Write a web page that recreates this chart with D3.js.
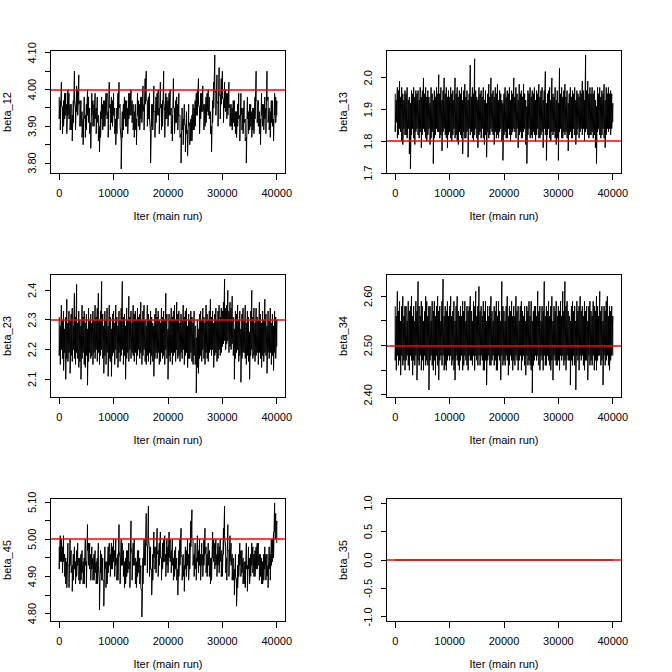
<!DOCTYPE html>
<html><head><meta charset="utf-8">
<script src="https://cdn.jsdelivr.net/npm/d3@7"></script>
<style>
body{margin:0;background:#fff}
svg{display:block}
text{font-family:"Liberation Sans",Arial,Helvetica,sans-serif;font-size:11px;fill:#000}
</style>
</head><body>
<svg id="chart" width="672" height="672"></svg>
<script>
// ---------------- data ----------------
const xTicks = [0, 10000, 20000, 30000, 40000];
const xTitle = "Iter (main run)";
const lastIter = 40000;
const paramNames = ["beta_12", "beta_13", "beta_23", "beta_34", "beta_45", "beta_35"];
const trueValues = [4.0, 1.8, 2.3, 2.5, 5.0, 0.0];

const yTicks_12 = ["3.80","3.85","3.90","3.95","4.00","4.05","4.10"];
const yTicks_13 = ["1.7","1.8","1.9","2.0"];
const yTicks_23 = ["2.1","2.2","2.3","2.4"];
const yTicks_34 = ["2.40","2.45","2.50","2.55","2.60"];
const yTicks_45 = ["4.80","4.85","4.90","4.95","5.00","5.05","5.10"];
const yTicks_35 = ["-1.0","-0.5","0.0","0.5","1.0"];

// Dense MCMC chains: for every block of 200 iterations (0, 200, ..., 40000)
// the highest and lowest value the chain visits.
const beta_12_hi = [
3.98,3.97,4.02,3.95,3.97,3.99,3.99,3.96,4.00,3.99,
3.96,3.96,3.93,3.97,4.05,3.95,4.01,4.00,4.04,3.97,
3.97,3.94,3.92,3.98,3.93,3.96,4.00,3.98,3.95,3.91,
3.99,3.97,3.96,3.99,3.95,3.98,3.93,3.90,3.94,3.98,
3.96,3.97,3.97,3.99,3.99,3.94,4.02,3.96,3.98,3.97,
3.99,3.95,3.92,3.95,3.99,4.02,3.96,3.86,3.94,3.96,
3.98,3.97,3.97,3.95,3.99,3.99,4.00,3.97,3.96,3.94,
3.96,3.92,3.99,3.97,3.96,3.98,3.98,4.01,3.96,4.03,
4.05,3.97,3.98,3.99,3.88,3.96,3.96,4.01,3.94,3.98,
3.99,4.00,3.95,4.02,3.96,3.97,4.05,3.94,3.99,3.98,
3.97,3.99,4.00,3.95,3.93,4.03,3.95,3.97,3.98,3.96,
3.99,3.93,3.88,3.95,3.92,3.96,3.90,3.94,3.89,3.96,
3.91,3.92,3.93,3.96,3.95,3.97,3.99,4.00,4.03,3.95,
3.99,3.99,4.01,3.96,3.96,3.98,3.99,4.00,3.98,3.94,
3.90,3.97,4.02,4.094,3.99,4.04,3.96,4.06,3.98,4.03,
4.05,3.97,4.02,4.00,3.99,3.99,4.02,3.96,3.96,3.95,
3.97,3.97,3.94,3.94,3.96,3.99,3.93,3.99,3.95,3.95,
3.97,3.92,3.87,3.98,3.94,3.96,3.96,3.94,3.95,3.95,
3.98,4.05,3.97,3.97,3.94,3.92,3.99,3.96,3.96,3.98,
3.95,4.05,3.98,3.95,3.94,3.97,3.97,3.92,3.99,3.98,
3.97];
const beta_12_lo = [
3.92,3.89,3.96,3.88,3.90,3.92,3.93,3.88,3.93,3.92,
3.89,3.89,3.86,3.91,3.97,3.89,3.94,3.93,3.96,3.90,
3.90,3.87,3.85,3.92,3.87,3.89,3.93,3.91,3.88,3.84,
3.93,3.90,3.90,3.92,3.88,3.91,3.86,3.83,3.87,3.92,
3.89,3.90,3.90,3.93,3.92,3.87,3.95,3.89,3.91,3.90,
3.93,3.88,3.85,3.88,3.92,3.95,3.90,3.784,3.87,3.89,
3.92,3.90,3.90,3.88,3.92,3.93,3.93,3.91,3.89,3.87,
3.89,3.85,3.93,3.90,3.89,3.92,3.91,3.94,3.89,3.96,
3.97,3.90,3.92,3.92,3.80,3.90,3.89,3.94,3.87,3.91,
3.93,3.93,3.88,3.95,3.89,3.90,3.97,3.87,3.92,3.92,
3.90,3.93,3.93,3.88,3.86,3.95,3.88,3.91,3.91,3.89,
3.93,3.87,3.80,3.89,3.85,3.91,3.83,3.88,3.82,3.90,
3.85,3.86,3.86,3.89,3.89,3.90,3.93,3.93,3.96,3.88,
3.92,3.94,3.94,3.89,3.90,3.91,3.94,3.93,3.92,3.88,
3.83,3.91,3.95,4.00,3.93,3.97,3.90,3.99,3.92,3.96,
3.98,3.91,3.95,3.94,3.92,3.93,3.95,3.90,3.90,3.89,
3.91,3.90,3.88,3.87,3.90,3.92,3.86,3.93,3.89,3.88,
3.91,3.86,3.80,3.92,3.88,3.89,3.90,3.87,3.89,3.88,
3.92,3.97,3.91,3.90,3.88,3.85,3.93,3.90,3.89,3.92,
3.88,3.97,3.91,3.89,3.87,3.91,3.90,3.86,3.93,3.91,
3.93];

const beta_13_hi = [
1.95,1.93,1.97,1.96,1.99,1.94,1.97,1.95,1.93,1.96,
1.95,1.97,1.93,1.94,1.92,1.96,1.95,1.97,1.94,1.96,
1.95,1.96,1.93,1.97,1.94,1.96,2.00,1.95,1.97,1.94,
1.96,1.94,1.92,1.97,1.95,1.93,1.96,1.94,1.97,1.95,
2.01,1.95,1.97,1.93,1.96,2.00,1.95,1.97,1.94,1.96,
1.94,1.97,1.95,1.96,1.93,2.00,1.95,1.97,1.94,1.96,
1.95,1.97,1.93,1.96,1.98,1.94,1.96,1.93,1.95,2.04,
1.94,1.97,1.95,2.06,1.96,1.94,1.93,1.97,1.95,1.96,
1.94,1.97,1.93,1.96,1.92,1.95,1.98,1.94,2.00,1.95,
1.96,1.94,1.97,1.95,1.98,1.93,1.96,1.95,1.93,1.92,
1.95,1.97,1.94,1.96,1.95,1.97,1.93,1.96,1.95,2.00,
1.94,1.97,1.95,1.93,1.98,1.95,1.96,1.94,1.98,1.95,
1.93,1.91,1.96,1.95,1.97,1.94,1.96,1.95,1.97,1.93,
1.96,1.95,1.98,1.94,1.96,1.97,1.93,1.96,2.02,1.92,
1.95,1.96,1.97,1.93,2.00,1.95,1.94,1.97,1.93,1.96,
1.92,2.03,1.95,1.97,1.94,1.96,1.98,1.94,1.96,1.92,
1.95,1.97,1.94,1.96,1.95,1.97,1.93,1.96,1.95,1.94,
1.96,1.95,1.99,1.96,1.93,2.072,1.96,1.99,1.95,1.97,
1.95,1.97,1.95,1.96,1.93,1.91,1.97,1.95,1.97,1.94,
1.96,1.95,1.98,1.93,1.97,1.95,1.97,1.95,1.96,1.95,
1.92];
const beta_13_lo = [
1.83,1.86,1.81,1.82,1.84,1.83,1.80,1.79,1.84,1.82,
1.82,1.81,1.84,1.76,1.713,1.82,1.84,1.81,1.79,1.83,
1.84,1.82,1.81,1.83,1.78,1.82,1.84,1.83,1.81,1.80,
1.82,1.84,1.79,1.81,1.83,1.73,1.81,1.82,1.84,1.83,
1.83,1.81,1.82,1.77,1.83,1.84,1.82,1.81,1.78,1.82,
1.83,1.81,1.80,1.82,1.84,1.81,1.82,1.80,1.79,1.83,
1.82,1.81,1.76,1.83,1.81,1.81,1.83,1.75,1.84,1.82,
1.83,1.81,1.80,1.82,1.84,1.81,1.78,1.82,1.83,1.81,
1.84,1.81,1.79,1.82,1.75,1.83,1.81,1.82,1.84,1.83,
1.82,1.79,1.83,1.81,1.82,1.81,1.83,1.84,1.80,1.74,
1.82,1.83,1.81,1.81,1.84,1.82,1.80,1.82,1.83,1.84,
1.83,1.81,1.84,1.78,1.82,1.83,1.81,1.81,1.83,1.84,
1.79,1.73,1.82,1.84,1.81,1.82,1.81,1.83,1.82,1.80,
1.82,1.84,1.81,1.81,1.82,1.83,1.78,1.84,1.82,1.74,
1.82,1.84,1.81,1.80,1.83,1.82,1.83,1.81,1.79,1.81,
1.74,1.83,1.84,1.81,1.81,1.83,1.82,1.83,1.81,1.77,
1.82,1.83,1.81,1.81,1.84,1.82,1.79,1.82,1.84,1.81,
1.83,1.84,1.82,1.84,1.80,1.83,1.84,1.82,1.81,1.82,
1.82,1.83,1.81,1.82,1.78,1.73,1.83,1.84,1.82,1.81,
1.82,1.84,1.81,1.78,1.82,1.84,1.83,1.84,1.82,1.84,
1.86];

const beta_23_hi = [
2.31,2.28,2.35,2.30,2.33,2.27,2.31,2.37,2.29,2.33,
2.30,2.32,2.34,2.28,2.39,2.31,2.42,2.29,2.33,2.30,
2.28,2.35,2.31,2.33,2.29,2.32,2.27,2.34,2.30,2.32,
2.29,2.33,2.30,2.35,2.31,2.34,2.39,2.30,2.33,2.43,
2.32,2.28,2.33,2.30,2.34,2.28,2.35,2.31,2.27,2.32,
2.33,2.29,2.35,2.31,2.28,2.33,2.30,2.34,2.43,2.31,
2.32,2.28,2.34,2.30,2.38,2.31,2.33,2.29,2.35,2.32,
2.33,2.30,2.34,2.31,2.32,2.36,2.30,2.33,2.35,2.30,
2.28,2.35,2.32,2.30,2.33,2.31,2.29,2.28,2.32,2.34,
2.31,2.33,2.30,2.29,2.34,2.31,2.33,2.30,2.39,2.32,
2.27,2.32,2.30,2.34,2.31,2.33,2.35,2.30,2.36,2.32,
2.33,2.29,2.32,2.30,2.35,2.31,2.33,2.34,2.28,2.32,
2.30,2.33,2.31,2.29,2.33,2.28,2.24,2.30,2.27,2.32,
2.33,2.30,2.34,2.31,2.29,2.35,2.32,2.30,2.33,2.37,
2.31,2.33,2.29,2.32,2.34,2.30,2.33,2.35,2.31,2.34,
2.33,2.36,2.438,2.34,2.35,2.40,2.33,2.36,2.34,2.38,
2.31,2.27,2.33,2.32,2.35,2.30,2.33,2.27,2.32,2.34,
2.30,2.35,2.29,2.33,2.31,2.26,2.33,2.40,2.31,2.34,
2.29,2.34,2.31,2.30,2.36,2.32,2.29,2.33,2.30,2.37,
2.32,2.28,2.33,2.30,2.34,2.29,2.32,2.28,2.33,2.31,
2.30];
const beta_23_lo = [
2.18,2.15,2.20,2.17,2.13,2.19,2.10,2.17,2.16,2.19,
2.12,2.18,2.16,2.20,2.17,2.15,2.19,2.17,2.14,2.16,
2.10,2.17,2.19,2.15,2.14,2.18,2.08,2.16,2.19,2.17,
2.18,2.15,2.19,2.17,2.20,2.16,2.19,2.15,2.18,2.20,
2.17,2.12,2.18,2.15,2.19,2.11,2.17,2.16,2.11,2.18,
2.19,2.15,2.20,2.17,2.14,2.19,2.16,2.18,2.20,2.15,
2.18,2.10,2.17,2.19,2.16,2.20,2.17,2.19,2.18,2.16,
2.19,2.15,2.18,2.20,2.17,2.19,2.15,2.18,2.20,2.16,
2.15,2.18,2.16,2.19,2.15,2.18,2.16,2.11,2.17,2.19,
2.17,2.19,2.15,2.16,2.19,2.17,2.18,2.15,2.20,2.17,
2.10,2.18,2.16,2.19,2.15,2.18,2.19,2.16,2.20,2.17,
2.18,2.16,2.19,2.17,2.20,2.15,2.18,2.19,2.14,2.17,
2.17,2.19,2.16,2.15,2.18,2.15,2.054,2.14,2.12,2.17,
2.18,2.16,2.20,2.17,2.15,2.19,2.17,2.16,2.19,2.20,
2.18,2.20,2.14,2.18,2.19,2.16,2.17,2.20,2.18,2.19,
2.21,2.22,2.23,2.20,2.22,2.23,2.19,2.21,2.20,2.22,
2.18,2.10,2.17,2.19,2.20,2.16,2.18,2.09,2.17,2.19,
2.19,2.17,2.15,2.18,2.16,2.10,2.18,2.20,2.17,2.18,
2.16,2.18,2.19,2.15,2.19,2.17,2.14,2.18,2.16,2.19,
2.18,2.12,2.19,2.17,2.19,2.15,2.18,2.13,2.19,2.17,
2.21];

const beta_34_hi = [
2.58,2.56,2.61,2.57,2.59,2.55,2.58,2.60,2.56,2.58,
2.58,2.55,2.59,2.57,2.58,2.60,2.56,2.58,2.55,2.59,
2.57,2.63,2.58,2.56,2.59,2.58,2.55,2.57,2.60,2.59,
2.56,2.58,2.58,2.55,2.59,2.57,2.59,2.56,2.58,2.60,
2.57,2.58,2.55,2.59,2.635,2.56,2.58,2.57,2.59,2.56,
2.58,2.60,2.56,2.57,2.59,2.55,2.58,2.60,2.57,2.56,
2.58,2.56,2.59,2.57,2.59,2.55,2.58,2.57,2.58,2.60,
2.57,2.55,2.59,2.58,2.61,2.56,2.58,2.62,2.57,2.58,
2.56,2.59,2.57,2.59,2.55,2.58,2.56,2.58,2.60,2.57,
2.55,2.58,2.57,2.59,2.56,2.59,2.57,2.55,2.63,2.58,
2.57,2.55,2.58,2.60,2.56,2.58,2.57,2.59,2.56,2.58,
2.56,2.60,2.57,2.58,2.55,2.58,2.59,2.57,2.56,2.58,
2.55,2.58,2.57,2.59,2.56,2.59,2.55,2.57,2.58,2.58,
2.56,2.61,2.57,2.58,2.55,2.58,2.57,2.63,2.56,2.58,
2.57,2.59,2.56,2.58,2.60,2.55,2.58,2.57,2.59,2.56,
2.58,2.57,2.59,2.56,2.61,2.57,2.63,2.58,2.59,2.57,
2.56,2.55,2.58,2.59,2.57,2.58,2.55,2.59,2.57,2.58,
2.60,2.57,2.58,2.56,2.59,2.57,2.58,2.55,2.58,2.59,
2.57,2.56,2.59,2.58,2.57,2.60,2.58,2.56,2.61,2.57,
2.58,2.55,2.58,2.57,2.59,2.60,2.56,2.58,2.57,2.58,
2.56];
const beta_34_lo = [
2.47,2.45,2.48,2.46,2.47,2.44,2.48,2.46,2.47,2.45,
2.47,2.48,2.46,2.45,2.48,2.47,2.44,2.47,2.46,2.48,
2.43,2.47,2.46,2.48,2.45,2.47,2.45,2.48,2.46,2.47,
2.46,2.41,2.47,2.48,2.46,2.45,2.47,2.44,2.48,2.46,
2.43,2.47,2.48,2.46,2.48,2.45,2.46,2.45,2.47,2.48,
2.47,2.48,2.46,2.47,2.45,2.43,2.48,2.47,2.46,2.45,
2.47,2.48,2.45,2.46,2.48,2.47,2.46,2.45,2.48,2.47,
2.47,2.46,2.48,2.45,2.48,2.47,2.46,2.48,2.46,2.48,
2.47,2.45,2.45,2.47,2.42,2.47,2.48,2.46,2.46,2.47,
2.48,2.46,2.47,2.45,2.45,2.48,2.47,2.43,2.48,2.46,
2.47,2.46,2.48,2.47,2.44,2.46,2.48,2.47,2.45,2.47,
2.46,2.48,2.47,2.45,2.47,2.48,2.45,2.47,2.48,2.46,
2.44,2.48,2.46,2.47,2.46,2.45,2.404,2.46,2.47,2.48,
2.47,2.48,2.46,2.45,2.48,2.47,2.45,2.48,2.46,2.46,
2.48,2.47,2.46,2.45,2.47,2.43,2.48,2.47,2.46,2.46,
2.47,2.45,2.48,2.47,2.48,2.46,2.47,2.45,2.48,2.47,
2.47,2.42,2.47,2.46,2.48,2.46,2.41,2.48,2.47,2.45,
2.48,2.47,2.48,2.46,2.45,2.47,2.47,2.43,2.48,2.46,
2.47,2.46,2.48,2.45,2.47,2.45,2.47,2.48,2.48,2.46,
2.47,2.42,2.48,2.46,2.47,2.48,2.46,2.45,2.47,2.48,
2.48];

const beta_45_hi = [
4.98,5.01,5.00,4.98,5.01,4.96,4.95,4.94,4.99,4.93,
5.00,4.97,4.93,4.96,4.98,4.94,4.97,4.99,4.95,4.95,
4.96,4.97,4.94,4.95,5.00,4.94,5.04,4.99,4.99,4.96,
4.98,4.95,4.96,4.97,4.94,4.95,4.99,4.88,4.97,4.96,
4.95,4.89,4.98,4.94,4.94,4.98,4.99,4.96,4.99,4.98,
5.00,4.97,5.00,4.95,4.96,5.04,4.95,5.00,4.99,4.97,
4.94,4.95,4.97,4.97,4.99,4.94,5.05,4.96,4.99,5.00,
4.95,4.94,4.97,4.97,4.95,4.93,4.86,4.95,5.00,4.99,
5.07,4.98,5.09,4.97,4.98,4.92,4.96,5.02,4.98,4.98,
5.03,4.97,4.99,5.02,4.95,4.99,5.00,5.01,4.96,5.00,
4.98,5.02,5.00,4.97,5.00,4.95,4.97,4.98,4.95,4.92,
4.97,5.00,5.03,4.95,4.96,4.93,4.98,4.97,5.00,4.96,
4.99,5.05,5.08,5.00,4.96,4.99,4.95,5.01,4.97,5.00,
4.96,4.99,4.96,5.00,5.03,4.98,4.96,4.99,4.97,4.95,
4.95,5.02,5.00,4.99,5.00,4.96,4.99,4.98,5.00,4.97,
4.96,5.03,5.09,4.98,4.95,5.04,4.97,5.01,4.99,4.96,
4.95,4.92,4.96,4.89,4.93,4.96,4.99,4.97,4.97,4.95,
4.94,4.94,4.99,4.93,4.98,4.95,4.96,4.99,4.98,4.96,
4.97,4.98,4.99,4.99,4.96,4.96,4.95,4.94,4.96,4.98,
4.96,4.96,4.93,4.98,4.96,5.00,5.00,5.02,5.098,5.07,
5.05];
const beta_45_lo = [
4.92,4.94,4.94,4.91,4.94,4.90,4.88,4.87,4.93,4.87,
4.93,4.91,4.86,4.89,4.92,4.88,4.90,4.93,4.89,4.88,
4.89,4.91,4.88,4.88,4.93,4.87,4.97,4.93,4.92,4.89,
4.92,4.89,4.89,4.91,4.88,4.88,4.93,4.81,4.91,4.89,
4.89,4.82,4.92,4.87,4.88,4.91,4.93,4.90,4.92,4.92,
4.94,4.90,4.93,4.89,4.89,4.97,4.88,4.93,4.93,4.90,
4.87,4.88,4.90,4.91,4.92,4.87,4.98,4.89,4.93,4.93,
4.88,4.87,4.90,4.91,4.88,4.87,4.791,4.88,4.93,4.93,
4.99,4.91,5.01,4.90,4.92,4.85,4.89,4.95,4.92,4.91,
4.96,4.90,4.93,4.95,4.89,4.92,4.94,4.94,4.90,4.93,
4.91,4.95,4.94,4.91,4.93,4.89,4.90,4.92,4.89,4.85,
4.90,4.93,4.96,4.89,4.90,4.86,4.92,4.90,4.93,4.89,
4.92,4.98,5.00,4.93,4.90,4.92,4.89,4.94,4.91,4.93,
4.89,4.93,4.90,4.93,4.96,4.91,4.90,4.93,4.90,4.88,
4.89,4.95,4.94,4.92,4.93,4.90,4.93,4.91,4.94,4.90,
4.90,4.96,5.01,4.91,4.89,4.97,4.90,4.94,4.93,4.89,
4.89,4.85,4.90,4.82,4.87,4.90,4.93,4.90,4.91,4.88,
4.88,4.87,4.92,4.86,4.92,4.88,4.90,4.93,4.91,4.90,
4.90,4.92,4.92,4.93,4.89,4.90,4.88,4.88,4.89,4.92,
4.89,4.90,4.87,4.92,4.89,4.93,4.94,4.95,5.02,5.00,
4.99];

// beta_35 is held fixed at 0 for the whole run
const beta_35Iter = [0, 40000];
const beta_35 = [0, 0];

// ---------------- drawing ----------------
function chainPoints(hi, lo) {
  const step = lastIter / (hi.length - 1);
  const pts = [];
  hi.forEach((v, k) => {
    pts.push([k * step, v]);
    pts.push([k * step, lo[k]]);
  });
  return pts;
}

const seriesPts = [
  chainPoints(beta_12_hi, beta_12_lo),
  chainPoints(beta_13_hi, beta_13_lo),
  chainPoints(beta_23_hi, beta_23_lo),
  chainPoints(beta_34_hi, beta_34_lo),
  chainPoints(beta_45_hi, beta_45_lo),
  beta_35Iter.map((it, k) => [it, beta_35[k]])
];
const yTickSets = [yTicks_12, yTicks_13, yTicks_23, yTicks_34, yTicks_45, yTicks_35];

const svg = d3.select("#chart");
const cellW = 336, cellH = 224;
const boxL = 50.5, boxR = 285.5, boxT = 50.5, boxB = 173.5;
const tickLen = 6;

function extendRange(lo, hi) {
  if (lo === hi) { const d = lo === 0 ? 1 : Math.abs(lo) * 0.4; lo -= d; hi += d; }
  const pad = (hi - lo) * 0.04;
  return [lo - pad, hi + pad];
}

seriesPts.forEach((pts, i) => {
  const col = i % 2, row = Math.floor(i / 2);
  const g = svg.append("g").attr("transform", `translate(${col * cellW},${row * cellH})`);

  const x = d3.scaleLinear().domain(extendRange(d3.min(pts, d => d[0]), d3.max(pts, d => d[0]))).range([boxL, boxR]);
  const y = d3.scaleLinear().domain(extendRange(d3.min(pts, d => d[1]), d3.max(pts, d => d[1]))).range([boxB, boxT]);

  const clipId = "clip" + i;
  g.append("clipPath").attr("id", clipId).append("rect")
    .attr("x", boxL).attr("y", boxT).attr("width", boxR - boxL).attr("height", boxB - boxT);

  g.append("path")
    .attr("clip-path", `url(#${clipId})`)
    .attr("d", d3.line().x(d => x(d[0])).y(d => y(d[1]))(pts))
    .attr("fill", "none").attr("stroke", "#000").attr("stroke-width", 1);

  // reference (true value) line
  const ry = Math.round(y(trueValues[i]));
  g.append("line").attr("clip-path", `url(#${clipId})`)
    .attr("x1", boxL).attr("x2", boxR).attr("y1", ry).attr("y2", ry)
    .attr("stroke", "#ff0000").attr("stroke-width", 1.5);

  // box
  g.append("rect").attr("x", boxL).attr("y", boxT).attr("width", boxR - boxL).attr("height", boxB - boxT)
    .attr("fill", "none").attr("stroke", "#000").attr("stroke-width", 1).attr("shape-rendering", "crispEdges");

  // x axis
  const xa = g.append("g");
  xTicks.forEach(t => {
    const px = Math.round(x(t) - 0.5) + 0.5;
    xa.append("line").attr("x1", px).attr("x2", px).attr("y1", boxB).attr("y2", boxB + tickLen)
      .attr("stroke", "#000").attr("stroke-width", 1).attr("shape-rendering", "crispEdges");
    xa.append("text").attr("x", x(t)).attr("y", boxB + 23).attr("text-anchor", "middle").text(d3.format("d")(t));
  });
  g.append("text").attr("x", (boxL + boxR) / 2).attr("y", boxB + 46.5).attr("text-anchor", "middle").text(xTitle);

  // y axis (labels that would overlap the previous one are dropped, as R does)
  const ya = g.append("g");
  let lastC = null, lastHalf = 0;
  const gap = 5.5;
  yTickSets[i].forEach(lbl => {
    const v = parseFloat(lbl);
    const py = Math.round(y(v) - 0.5) + 0.5;
    ya.append("line").attr("x1", boxL - tickLen).attr("x2", boxL).attr("y1", py).attr("y2", py)
      .attr("stroke", "#000").attr("stroke-width", 1).attr("shape-rendering", "crispEdges");
    const t = ya.append("text").attr("transform", `translate(${boxL - 15},${y(v)}) rotate(-90)`)
      .attr("text-anchor", "middle").text(lbl);
    const half = t.node().getComputedTextLength() / 2;
    const c = y(v);
    if (lastC !== null && Math.abs(lastC - c) < half + lastHalf + gap) {
      t.remove();
    } else { lastC = c; lastHalf = half; }
  });
  g.append("text").attr("transform", `translate(${boxL - 39.5},${(boxT + boxB) / 2}) rotate(-90)`)
    .attr("text-anchor", "middle").text(paramNames[i]);
});
</script>
</body></html>
